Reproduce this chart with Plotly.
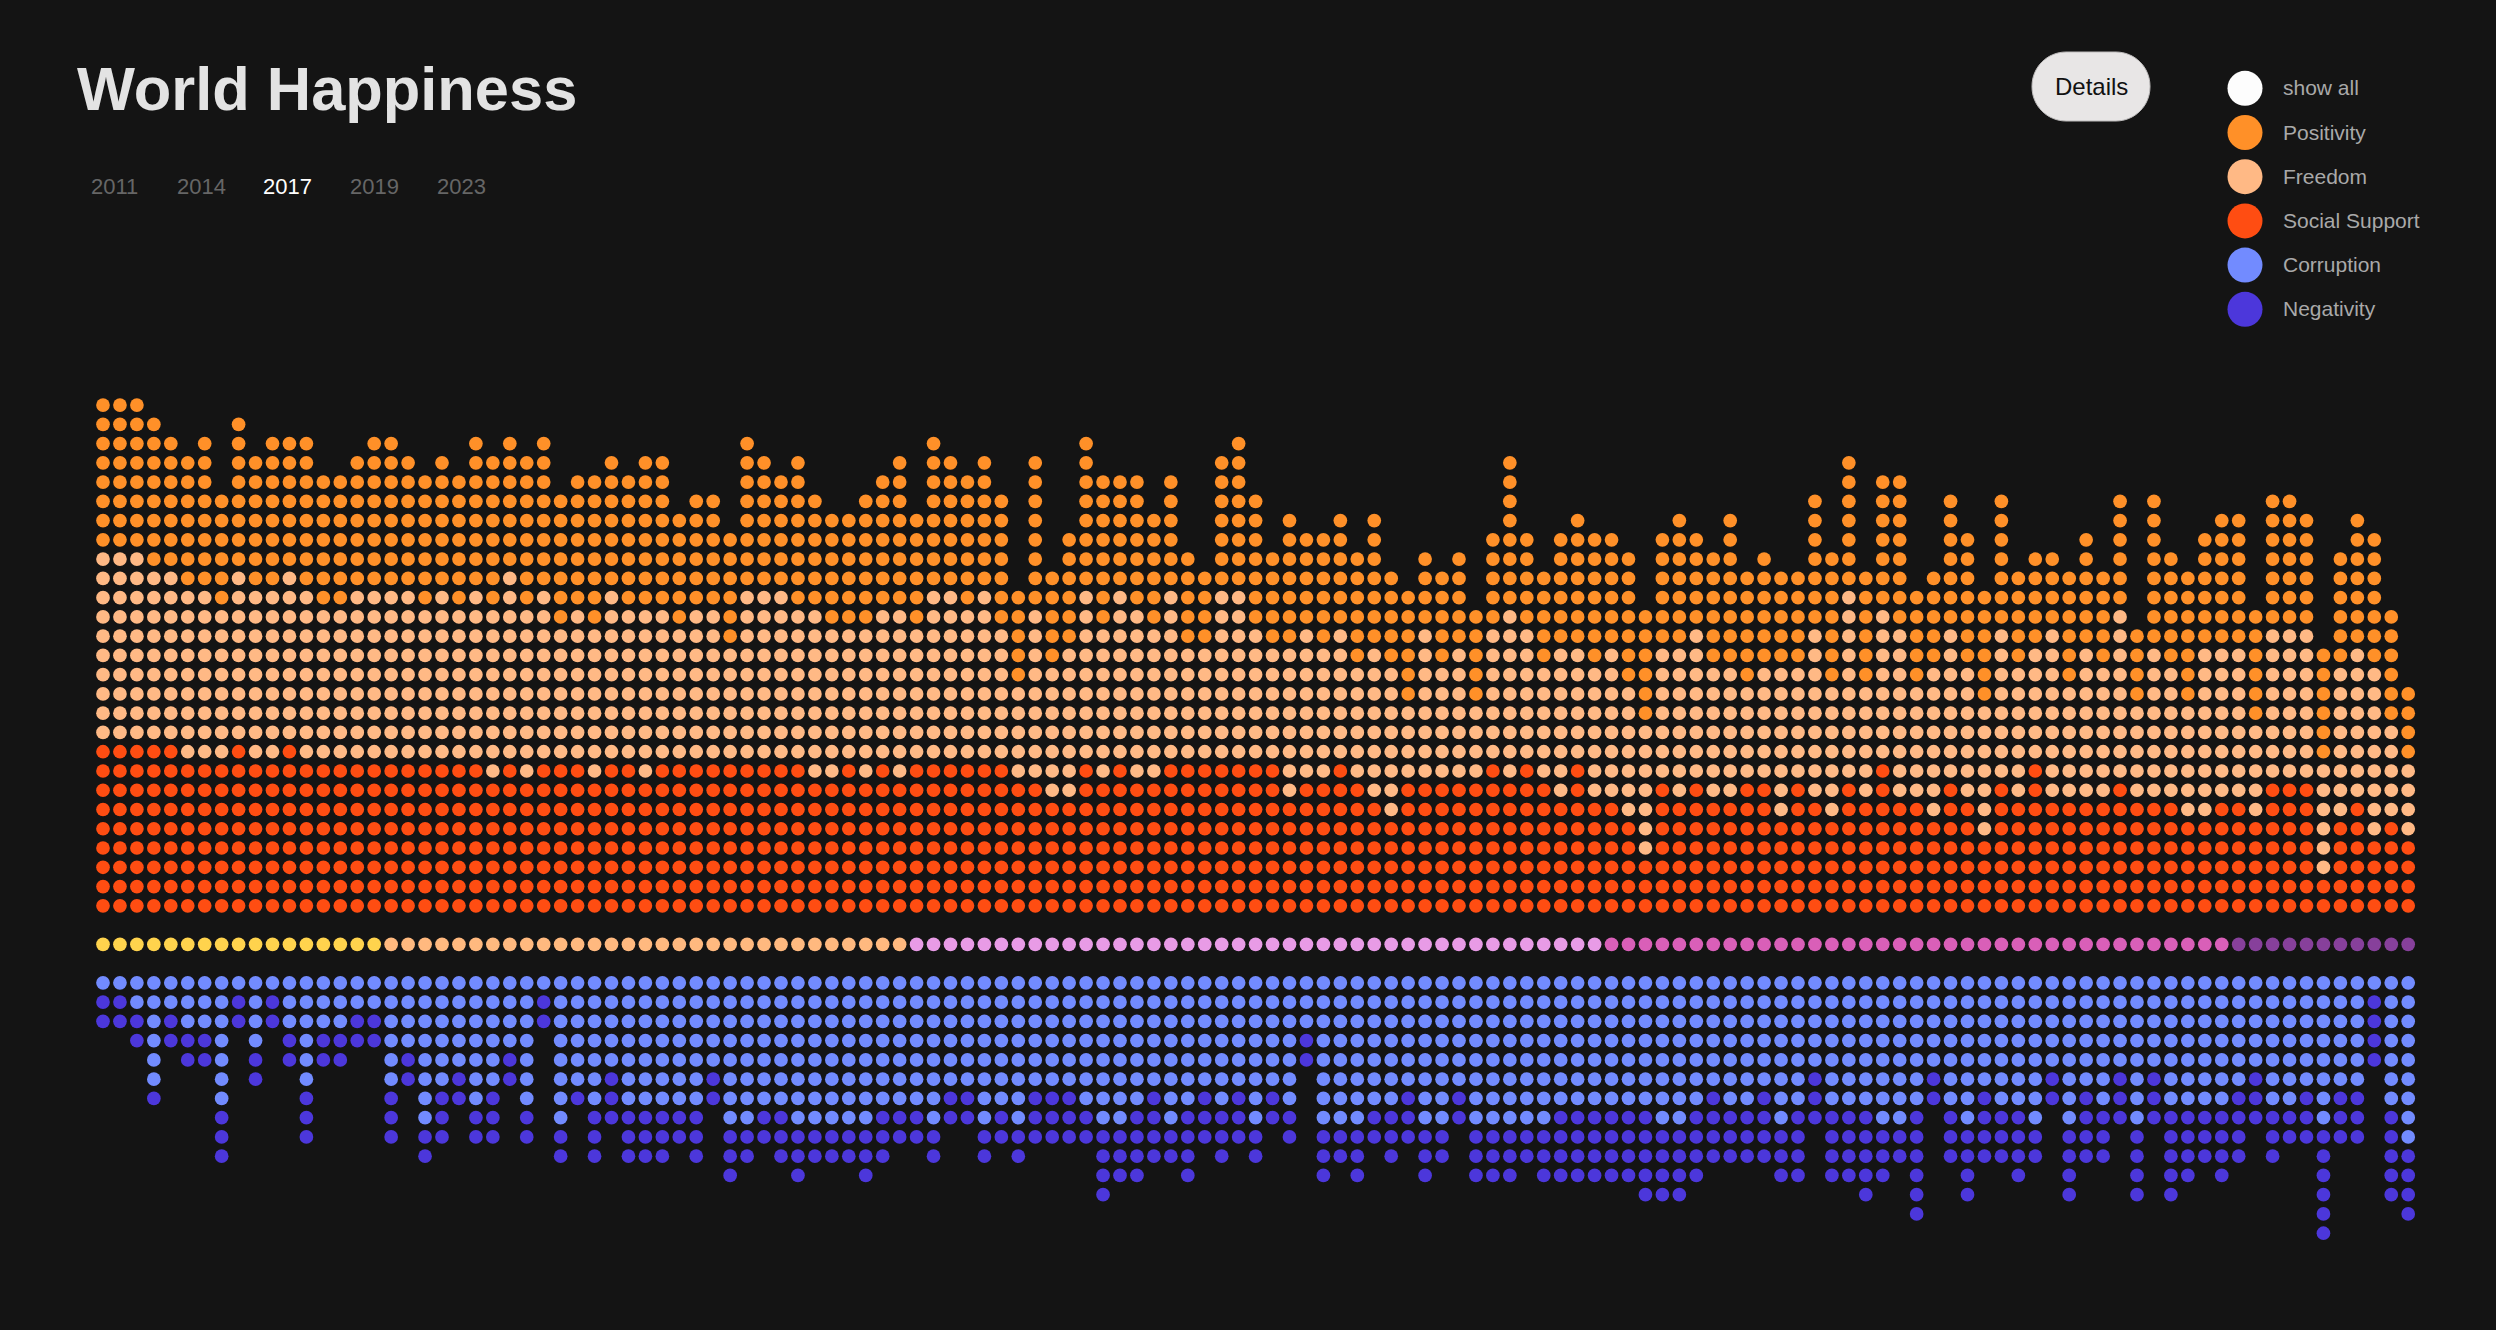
import plotly.graph_objects as go

# ---------- data: dot counts per country column ----------
social = [9,9,9,9,9,8,8,8,9,8,8,9,8,8,8,8,8,8,8,8,8,8,8,7,8,7,8,8,8,7,8,8,7,8,8,8,8,8,8,8,8,8,7,7,8,7,
          8,7,8,8,8,8,8,8,7,7,6,6,8,7,8,7,7,8,8,8,8,8,8,8,6,7,7,8,7,6,5,7,7,7,7,7,8,7,8,7,6,8,6,6,5,3,
          7,6,7,6,6,7,7,5,7,6,5,7,6,8,6,6,5,7,6,4,7,6,8,6,6,6,6,7,6,6,6,5,5,6,6,5,7,7,7,2,5,6,4,5,4]
social_plus_freedom = [19,19,19,18,18,17,17,16,18,17,17,18,17,16,16,17,17,17,17,16,17,16,17,16,18,16,17,15,16,15,17,16,16,16,15,16,16,14,17,17,17,16,16,15,15,15,
          16,16,15,17,17,16,17,15,12,16,13,14,17,15,17,16,15,17,14,14,17,17,15,14,14,15,14,15,13,14,13,11,15,13,14,11,15,16,15,13,14,14,13,14,12,10,
          14,14,15,13,13,12,13,13,13,15,12,17,12,16,15,12,13,15,13,11,15,13,14,15,12,14,13,16,11,14,13,11,14,14,14,10,15,15,15,8,13,14,13,10,8]
upper_total = [27,27,27,26,25,24,25,22,26,24,25,25,25,23,23,24,25,25,24,23,24,23,25,24,25,24,25,22,23,23,24,23,24,24,21,22,22,20,25,24,23,24,22,21,21,22,
          23,24,21,25,24,23,24,22,17,24,18,20,25,23,23,23,21,23,19,18,24,25,22,19,21,20,20,21,19,21,18,17,19,18,19,16,20,24,20,18,20,21,20,20,19,16,
          20,21,20,19,21,18,19,18,18,22,19,24,18,23,23,17,18,22,20,17,22,18,19,19,18,20,18,22,15,22,19,18,20,21,21,16,22,22,21,14,19,21,20,16,12]
corruption = [1,1,2,6,2,3,3,7,1,4,1,3,6,3,3,2,2,6,4,8,6,5,7,6,4,7,1,8,6,7,5,7,7,7,7,7,5,8,8,7,7,8,8,8,8,8,
          7,7,7,8,6,6,8,7,8,6,6,6,7,8,8,7,6,8,7,6,7,6,8,6,7,3,8,8,8,7,7,6,8,8,6,8,8,8,8,8,7,7,7,7,7,7,
          8,8,7,6,7,7,6,8,7,5,7,7,7,8,8,7,5,7,8,6,7,7,8,5,8,6,7,5,8,5,7,7,7,7,6,5,7,7,6,8,6,6,1,7,9]
lower_total = [3,3,4,7,4,5,5,10,3,6,3,5,9,5,5,4,4,9,6,10,9,7,9,9,6,9,3,10,7,10,8,10,10,10,9,10,7,11,10,9,10,11,10,10,10,11,
          10,9,9,10,8,8,10,9,10,9,9,9,9,12,11,11,10,10,11,9,10,9,10,8,9,5,11,10,11,9,10,9,11,10,8,11,11,11,10,11,11,11,11,11,11,12,
          12,12,11,10,10,10,10,11,11,8,11,11,12,11,10,13,7,10,12,10,10,11,10,7,12,10,10,8,12,8,12,11,10,11,10,8,10,9,9,14,9,9,5,12,13]
tier_sizes = [17, 31, 41, 37, 11]
tier_names = ["Very happy", "Happy", "Neutral", "Unhappy", "Very unhappy"]
legend_labels = ["show all", "Positivity", "Freedom", "Social Support", "Corruption", "Negativity"]
years = ["2011", "2014", "2017", "2019", "2023"]
active_year = "2017"
title = "World Happiness"
button_label = "Details"

# ---------- styles ----------
BG = "#141414"
COL = {"Positivity": "#ff9028", "Freedom": "#ffb985", "Social Support": "#ff4d12",
       "Corruption": "#728bff", "Negativity": "#4c37db", "show all": "#fdfdfd"}
TIER_COL = ["#ffd34d", "#ffb97f", "#e89be6", "#d95fb8", "#87409b"]
FONT = "Liberation Sans"
W, H = 2496, 1330
X0, DX = 103.0, 16.95       # pixel of first column, column step
Y1, DY = 905.8, 19.26       # pixel of row 1, row step
DOT = 13.7

n = len(social)
cols = list(range(1, n + 1))


def stack(lo, hi, sign=1, offset=0):
    xs, ys = [], []
    for c, a, b in zip(cols, lo, hi):
        for r in range(a + 1, b + 1):
            xs.append(c)
            ys.append(sign * r + offset)
    return xs, ys


fig = go.Figure()


def dots(name, xs, ys, color):
    fig.add_trace(go.Scatter(x=xs, y=ys, mode="markers", name=name, hoverinfo="name",
                             marker=dict(size=DOT, color=color, line=dict(width=0))))


zero = [0] * n
x, y = stack(zero, social); dots("Social Support", x, y, COL["Social Support"])
x, y = stack(social, social_plus_freedom); dots("Freedom", x, y, COL["Freedom"])
x, y = stack(social_plus_freedom, upper_total); dots("Positivity", x, y, COL["Positivity"])

# middle strip: one dot per column, coloured by tier
start = 0
for name, size, color in zip(tier_names, tier_sizes, TIER_COL):
    dots(name, cols[start:start + size], [-1] * size, color)
    start += size

x, y = stack(zero, corruption, sign=-1, offset=-2); dots("Corruption", x, y, COL["Corruption"])
x, y = stack(corruption, lower_total, sign=-1, offset=-2); dots("Negativity", x, y, COL["Negativity"])

# legend dots on a pixel-scale overlay axis
LEG_X, LEG_Y0, LEG_DY = 2245, 88.3, 44.2
leg_y = [LEG_Y0 + i * LEG_DY for i in range(len(legend_labels))]
fig.add_trace(go.Scatter(x=[LEG_X] * len(legend_labels), y=leg_y, mode="markers", xaxis="x2", yaxis="y2",
                         hoverinfo="skip",
                         marker=dict(size=35, color=[COL[l] for l in legend_labels], line=dict(width=0))))

ann = []
ann.append(dict(text=title, x=76, y=88, xanchor="left", yanchor="middle",
                font=dict(size=61.4, color="#e3e3e3", family=FONT, weight=700)))
YEAR_X = [114, 201, 287.6, 374.6, 461.5]
for yr, xp in zip(years, YEAR_X):
    ann.append(dict(text=yr, x=xp, y=186.5, xanchor="center", yanchor="middle",
                    font=dict(size=22, color="#ffffff" if yr == active_year else "#666666", family=FONT)))
for lab, yp in zip(legend_labels, leg_y):
    ann.append(dict(text=lab, x=2282, y=yp - 0.5, xanchor="left", yanchor="middle",
                    font=dict(size=21, color="#a9a9a9", family=FONT)))
ann.append(dict(text=button_label, x=2091, y=86.5, xanchor="center", yanchor="middle",
                font=dict(size=24, color="#111111", family=FONT)))
for a in ann:
    a.update(xref="x2", yref="y2", showarrow=False, borderpad=0)

# rounded "Details" button
bx0, bx1, by0, by1, br = 2032, 2150, 52, 121, 34
k = br * 0.448
path = (f"M{bx0+br},{by0} L{bx1-br},{by0} C{bx1-k},{by0} {bx1},{by0+k} {bx1},{by0+br} L{bx1},{by1-br} "
        f"C{bx1},{by1-k} {bx1-k},{by1} {bx1-br},{by1} L{bx0+br},{by1} C{bx0+k},{by1} {bx0},{by1-k} {bx0},{by1-br} "
        f"L{bx0},{by0+br} C{bx0},{by0+k} {bx0+k},{by0} {bx0+br},{by0} Z")

hidden = dict(visible=False, showgrid=False, zeroline=False, fixedrange=True)
fig.update_layout(
    width=W, height=H, margin=dict(l=0, r=0, t=0, b=0),
    paper_bgcolor=BG, plot_bgcolor=BG, showlegend=False, annotations=ann,
    font=dict(family=FONT),
    shapes=[dict(type="path", path=path, xref="x2", yref="y2", fillcolor="#e8e6e6",
                 line=dict(width=1, color="#bdbbbb"), layer="below")],
    xaxis=dict(range=[1 - X0 / DX, 1 + (W - X0) / DX], domain=[0, 1], **hidden),
    yaxis=dict(range=[1 - (H - Y1) / DY, 1 + Y1 / DY], domain=[0, 1], **hidden),
    xaxis2=dict(range=[0, W], domain=[0, 1], overlaying="x", anchor="y2", **hidden),
    yaxis2=dict(range=[H, 0], domain=[0, 1], overlaying="y", anchor="x2", **hidden),
)

fig.write_html("out.html", config={"displayModeBar": False},
               post_script=f"document.body.style.margin='0';document.body.style.background='{BG}';"
                           "document.documentElement.style.overflow='hidden';")
